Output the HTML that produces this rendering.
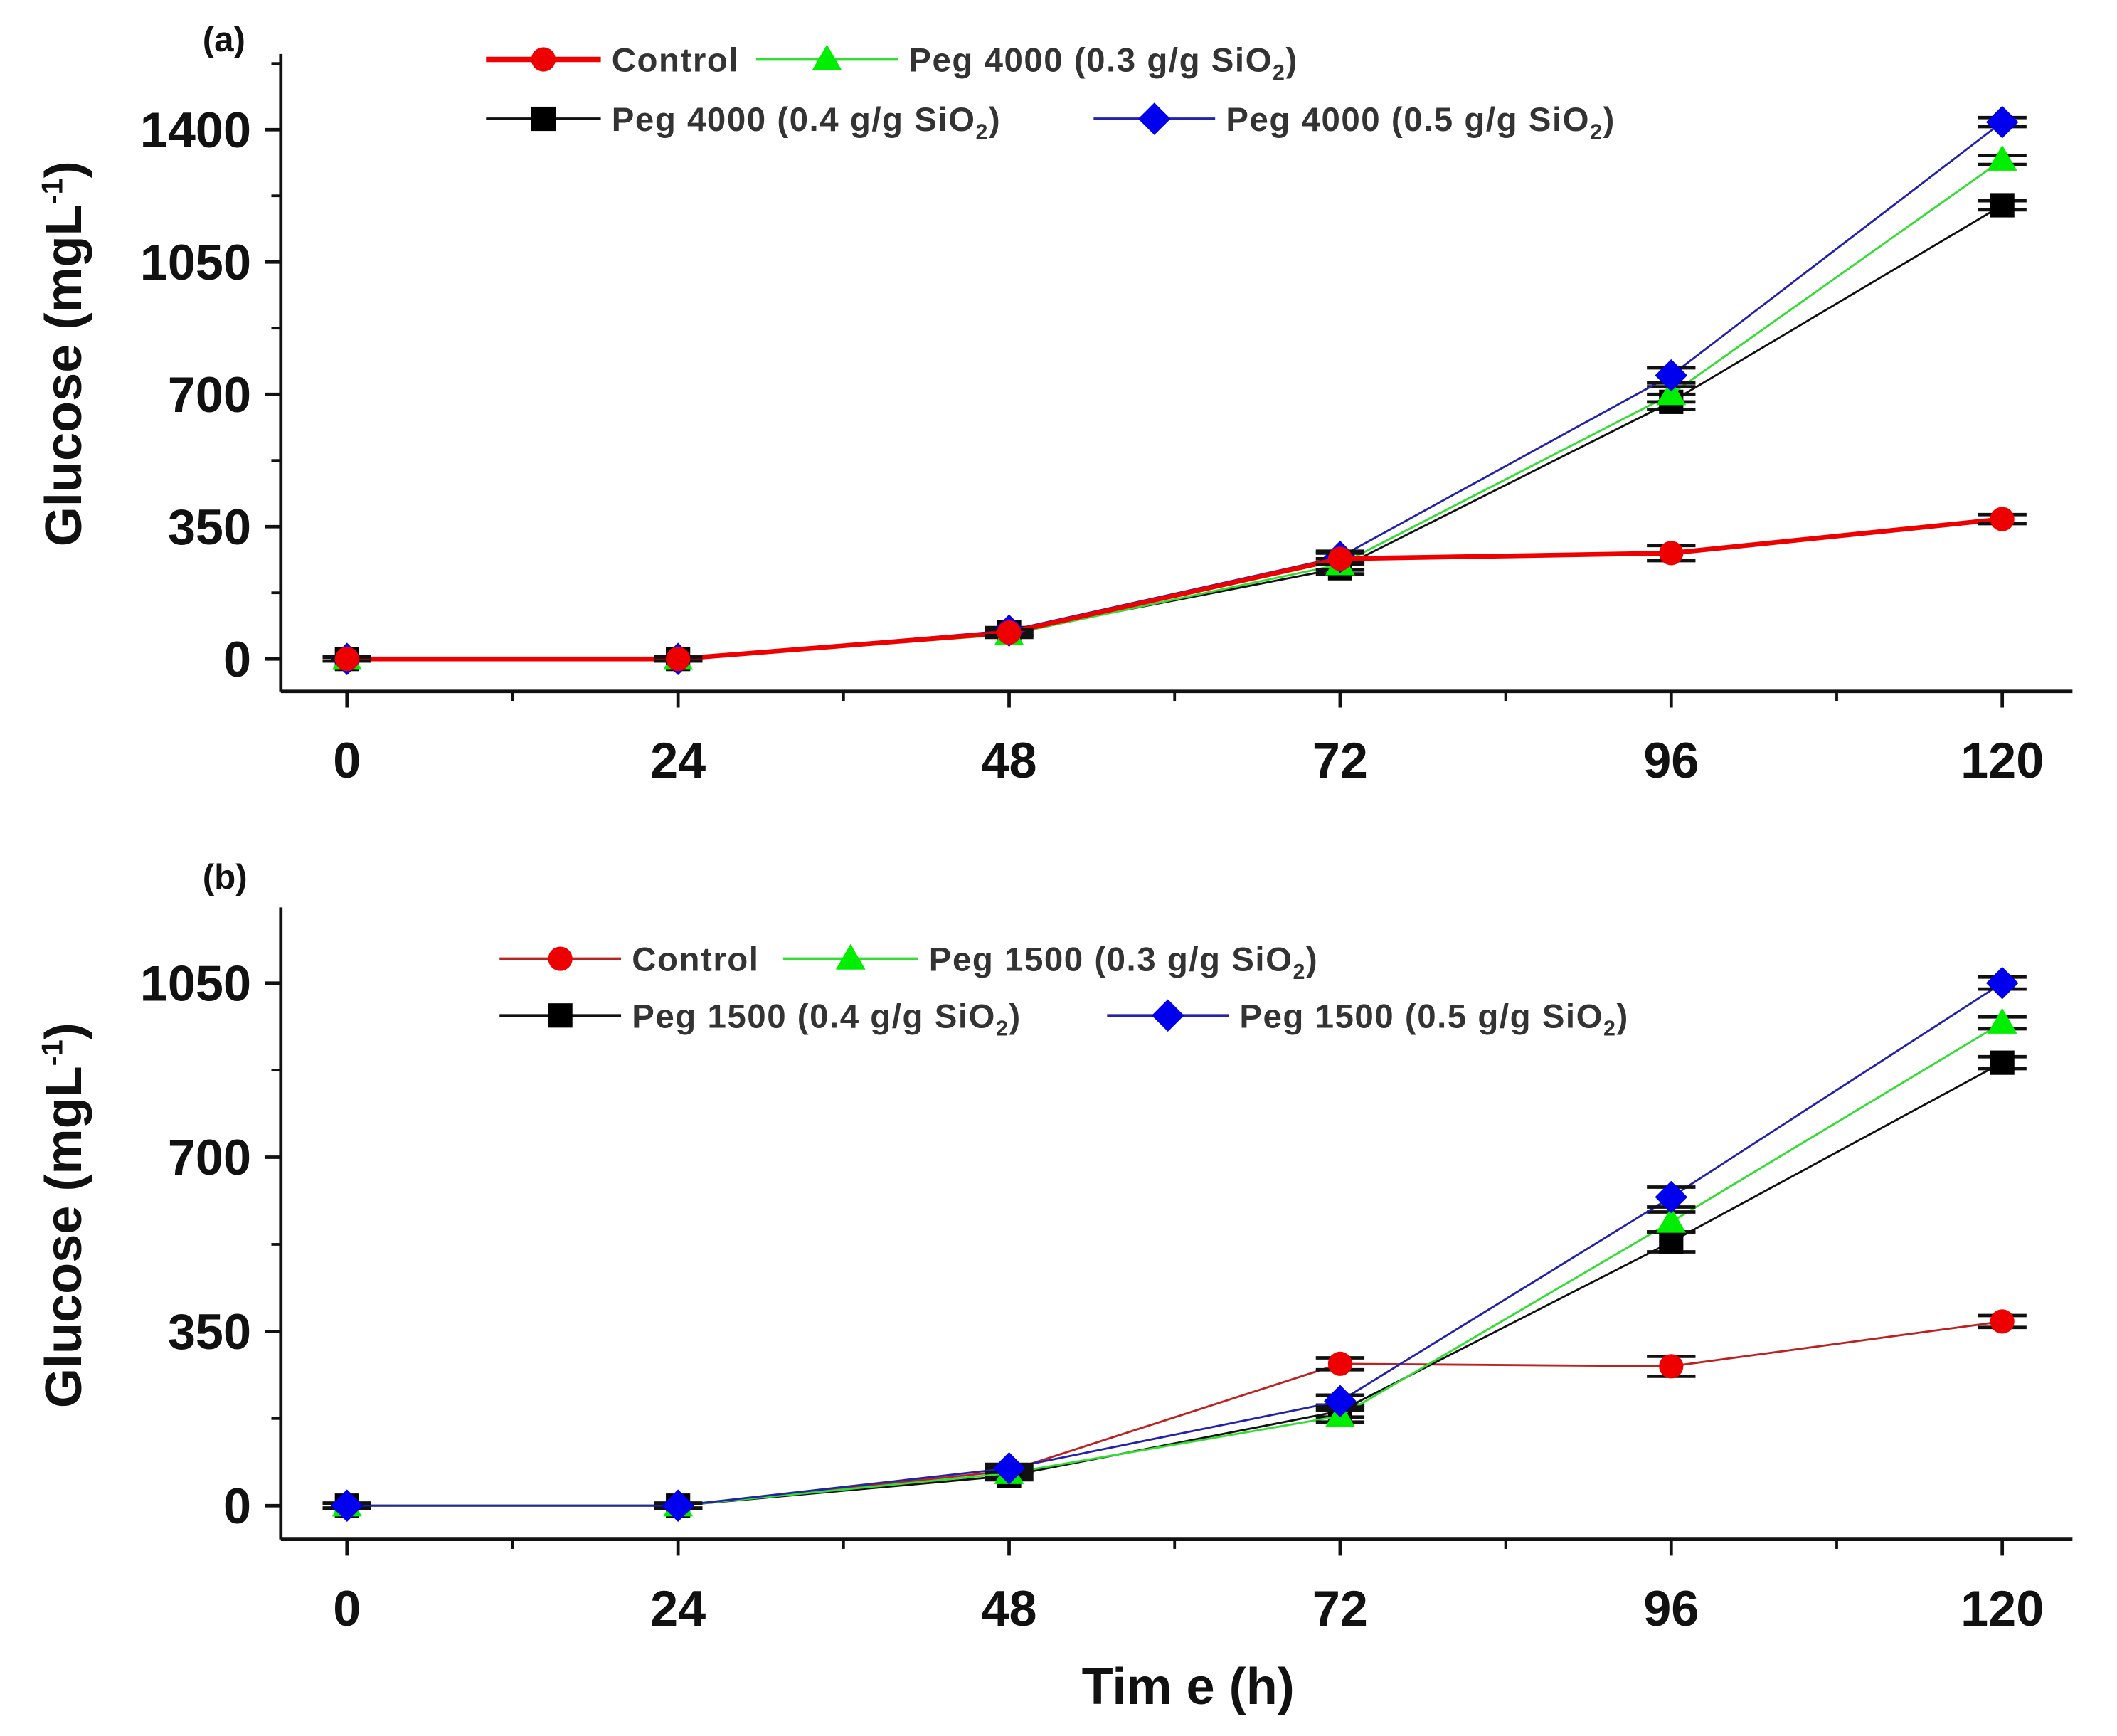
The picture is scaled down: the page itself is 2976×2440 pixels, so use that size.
<!DOCTYPE html>
<html><head><meta charset="utf-8">
<style>
html,body{margin:0;padding:0;background:#fff;}
svg{display:block;}
text{font-family:"Liberation Sans",Arial,sans-serif;}
</style></head>
<body>
<svg id="chart" xmlns="http://www.w3.org/2000/svg" width="2976" height="2440" viewBox="0 0 1568 1285.6" preserveAspectRatio="none">
<rect width="1568" height="1286" fill="#fff"/>
<g id="root"></g>
</svg>
<script>
const times = [0, 24, 48, 72, 96, 120];
const xTicks = [0, 24, 48, 72, 96, 120];
const yTicksA = [0, 350, 700, 1050, 1400];
const yTicksB = [0, 350, 700, 1050];
const a_control = [0, 0, 70, 265, 280, 370];
const a_p03 = [0, 0, 65, 250, 700, 1320];
const a_p04 = [0, 0, 70, 240, 680, 1200];
const a_p05 = [0, 0, 75, 270, 750, 1420];
const b_control = [0, 0, 70, 285, 280, 370];
const b_p03 = [0, 0, 65, 180, 570, 970];
const b_p04 = [0, 0, 60, 190, 530, 890];
const b_p05 = [0, 0, 75, 210, 620, 1050];
const errA = [5, 5, 8, 15, 20, 12];
const errB = [5, 5, 8, 12, 20, 12];

const NS = "http://www.w3.org/2000/svg";
const root = document.getElementById('root');
function mk(tag, attrs, parent){const e=document.createElementNS(NS,tag);for(const k in attrs)e.setAttribute(k,attrs[k]);(parent||root).appendChild(e);return e;}

function xScale(t){return 257 + (t/24)*245.2;}

function marker(g, shape, x, y, color){
  let e;
  if(shape==='circle') e=mk('circle',{cx:x,cy:y,r:9,fill:color},g);
  else if(shape==='square') e=mk('rect',{x:x-9,y:y-9,width:18,height:18,fill:color},g);
  else if(shape==='triangle') e=mk('polygon',{points:`${x},${y-11} ${x+11},${y+8} ${x-11},${y+8}`,fill:color},g);
  else e=mk('polygon',{points:`${x},${y-12} ${x+12},${y} ${x},${y+12} ${x-12},${y}`,fill:color},g);
  return e;
}

function panel(cfg){
  const g = mk('g',{});
  
  
  const y = v => cfg.y0 - v*cfg.py;
  const ax = mk('line',{x1:208,y1:cfg.top,x2:208,y2:cfg.bottom,stroke:'#111','stroke-width':2.5},g);
  
  
  const bx = mk('line',{x1:208,y1:cfg.bottom,x2:1535,y2:cfg.bottom,stroke:'#111','stroke-width':2.5},g);
  
  
  xTicks.forEach((t,i)=>{
    const x=xScale(t);
    mk('line',{x1:x,y1:cfg.bottom,x2:x,y2:cfg.bottom+12,stroke:'#111','stroke-width':2.5},g);
    if(i<xTicks.length-1){const xm=xScale(t+12);mk('line',{x1:xm,y1:cfg.bottom,x2:xm,y2:cfg.bottom+7,stroke:'#111','stroke-width':2},g);}
    const tl=mk('text',{x:x,y:cfg.bottom+64,'text-anchor':'middle','font-size':37,'font-weight':'bold',fill:'#111'},g);
    tl.textContent=t;
    
    
  });
  cfg.yTicks.forEach((v,i)=>{
    const yy=y(v);
    mk('line',{x1:196,y1:yy,x2:208,y2:yy,stroke:'#111','stroke-width':2.5},g);
    const ym=y(v+175);
    if(ym>cfg.top) mk('line',{x1:201,y1:ym,x2:208,y2:ym,stroke:'#111','stroke-width':2},g);
    const tl=mk('text',{x:186,y:yy+13,'text-anchor':'end','font-size':37,'font-weight':'bold',fill:'#111'},g);
    tl.textContent=v;
    
    
  });
  const yt=mk('text',{x:0,y:0,transform:`translate(60,${cfg.titleY}) rotate(-90)`,'text-anchor':'middle','font-size':38,'font-weight':'bold',fill:'#111'},g);
  yt.innerHTML='Glucose (mgL<tspan dy="-14" font-size="22">-1</tspan><tspan dy="14">)</tspan>';
  
  
  const pl=mk('text',{x:150,y:cfg.labelY,'font-size':26,'font-weight':'bold',fill:'#111'},g);
  pl.textContent=cfg.label;
  
  
  cfg.series.forEach(s=>{
    const sg=mk('g',{},g);
    
    
    const pts=times.map((t,i)=>xScale(t)+','+y(s.data[i])).join(' ');
    const ln=mk('polyline',{points:pts,fill:'none',stroke:s.color,'stroke-width':s.w},sg);
    
    
    times.forEach((t,i)=>{
      const x=xScale(t), yy=y(s.data[i]), e=cfg.err[i];
      mk('line',{x1:x,y1:y(s.data[i]+e),x2:x,y2:y(s.data[i]-e),stroke:'#111','stroke-width':2},sg);
      mk('line',{x1:x-18,y1:y(s.data[i]+e),x2:x+18,y2:y(s.data[i]+e),stroke:'#111','stroke-width':2.5},sg);
      mk('line',{x1:x-18,y1:y(s.data[i]-e),x2:x+18,y2:y(s.data[i]-e),stroke:'#111','stroke-width':2.5},sg);
      const m=marker(sg,s.shape,x,yy,s.mcolor);
      
      
    });
  });
  cfg.legend.forEach(L=>{
    const lg=mk('g',{},g);
    
    
    mk('line',{x1:L.x1,y1:L.y,x2:L.x2,y2:L.y,stroke:L.color,'stroke-width':L.w},lg);
    marker(lg,L.shape,(L.x1+L.x2)/2,L.y,L.mcolor);
    const t=mk('text',{x:L.x2+8,y:L.y+9,'font-size':25,'font-weight':'bold',fill:'#333','letter-spacing':'0.8'},lg);
    t.innerHTML=L.text;
  });
}

panel({name:'panel-a',top:40,bottom:512,y0:488,py:98/350,yTicks:yTicksA,titleY:262,label:'(a)',labelY:38,err:errA,
  series:[
    {key:'peg4000-0.4',data:a_p04,color:'#111',mcolor:'#000',shape:'square',w:1.5},
    {key:'peg4000-0.3',data:a_p03,color:'#33dd33',mcolor:'#00ee00',shape:'triangle',w:1.5},
    {key:'peg4000-0.5',data:a_p05,color:'#2222aa',mcolor:'#0000ee',shape:'diamond',w:1.5},
    {key:'control',data:a_control,color:'#ee0000',mcolor:'#ee0000',shape:'circle',w:3.5}],
  legend:[
    {x1:360,x2:445,y:44,color:'#ee0000',mcolor:'#ee0000',shape:'circle',w:4,text:'Control'},
    {x1:560,x2:665,y:44,color:'#33dd33',mcolor:'#00ee00',shape:'triangle',w:2,text:'Peg 4000 (0.3 g/g SiO<tspan dy="6" font-size="16">2</tspan><tspan dy="-6">)</tspan>'},
    {x1:360,x2:445,y:88,color:'#111',mcolor:'#000',shape:'square',w:2,text:'Peg 4000 (0.4 g/g SiO<tspan dy="6" font-size="16">2</tspan><tspan dy="-6">)</tspan>'},
    {x1:810,x2:900,y:88,color:'#2222aa',mcolor:'#0000ee',shape:'diamond',w:2,text:'Peg 4000 (0.5 g/g SiO<tspan dy="6" font-size="16">2</tspan><tspan dy="-6">)</tspan>'}]
});
panel({name:'panel-b',top:672,bottom:1140,y0:1115,py:129/350,yTicks:yTicksB,titleY:900,label:'(b)',labelY:658,err:errB,
  series:[
    {key:'control',data:b_control,color:'#bb2222',mcolor:'#ee0000',shape:'circle',w:1.5},
    {key:'peg1500-0.4',data:b_p04,color:'#111',mcolor:'#000',shape:'square',w:1.5},
    {key:'peg1500-0.3',data:b_p03,color:'#33dd33',mcolor:'#00ee00',shape:'triangle',w:1.5},
    {key:'peg1500-0.5',data:b_p05,color:'#2222aa',mcolor:'#0000ee',shape:'diamond',w:1.5}],
  legend:[
    {x1:370,x2:460,y:710,color:'#bb2222',mcolor:'#ee0000',shape:'circle',w:2,text:'Control'},
    {x1:580,x2:680,y:710,color:'#33dd33',mcolor:'#00ee00',shape:'triangle',w:2,text:'Peg 1500 (0.3 g/g SiO<tspan dy="6" font-size="16">2</tspan><tspan dy="-6">)</tspan>'},
    {x1:370,x2:460,y:752,color:'#111',mcolor:'#000',shape:'square',w:2,text:'Peg 1500 (0.4 g/g SiO<tspan dy="6" font-size="16">2</tspan><tspan dy="-6">)</tspan>'},
    {x1:820,x2:910,y:752,color:'#2222aa',mcolor:'#0000ee',shape:'diamond',w:2,text:'Peg 1500 (0.5 g/g SiO<tspan dy="6" font-size="16">2</tspan><tspan dy="-6">)</tspan>'}]
});
const xt=mk('text',{x:880,y:1262,'text-anchor':'middle','font-size':38,'font-weight':'bold',fill:'#111'});
xt.textContent='Tim e (h)';


</script>
</body></html>
